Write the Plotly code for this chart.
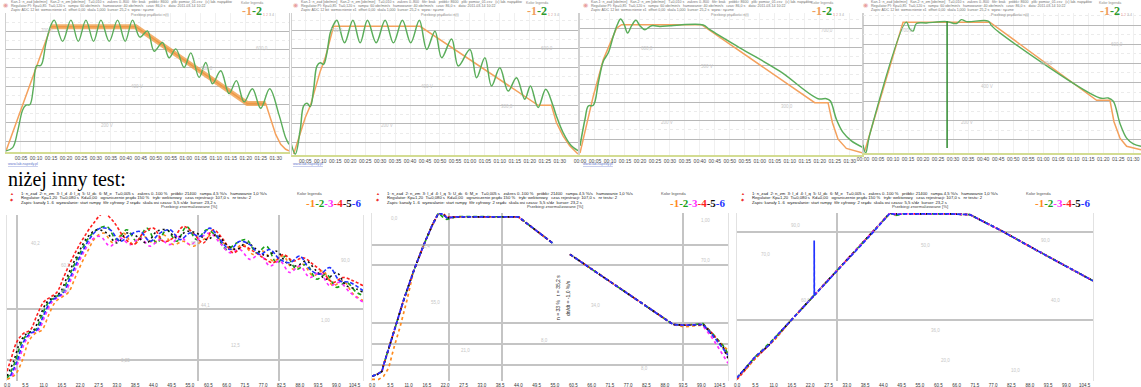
import plotly.graph_objects as go

W, H = 1141, 387

# ---------------- top row: set speed (1) and measured speed (2), four runs ----------------
# run A
a_set_t = [0, 13.5, 39, 72.5, 78, 79.5, 81, 82.5, 84, 85]
a_set = [46, 725, 725, 305, 305, 225, 136, 82, 55, 46]
a_band_t = [13.5, 39, 72.5, 78]
a_band = [725, 725, 305, 305]
a_meas_t = [0, 2, 3.5, 5, 6, 7.2, 8.2, 9.2, 10.5, 12, 13.5, 14.5, 17, 19.5, 21.7, 24, 26.3, 28.5, 31, 33.5,
            35.8, 38, 40.2, 42.5, 44.5, 47, 49, 51, 53.5, 55.5, 58, 60, 62, 64.5, 67, 69.2, 71.5, 74, 76.5, 79.2,
            82, 84, 85]
a_meas = [46, 64, 154, 270, 296, 300, 386, 511, 514, 636, 734, 761, 645, 761, 645, 761, 645, 761, 645, 761,
          645, 761, 668, 702, 591, 639, 555, 604, 502, 582, 448, 529, 413, 484, 359, 430, 314, 386, 279, 386,
          243, 118, 82]

# run B
b_set_t = [1, 2.5, 4.5, 6, 7.5, 9, 10.5, 13, 39, 74.5, 78.5, 80, 82, 84, 86.5]
b_set = [39, 119, 234, 296, 393, 481, 552, 720, 720, 299, 299, 207, 136, 83, 39]
b_meas_t = [0, 1.5, 3, 4, 5, 6, 7, 8, 9, 10, 11, 12, 13, 14, 16.3, 18.8, 21, 23.2, 25.8, 28.5,
            31, 33.7, 36.2, 38.8, 41, 43.5, 45.5, 48.5, 50.5, 54, 56, 58.5, 60.5, 63, 65.5, 68, 70.5, 72.2, 74.5, 76.8,
            79, 80, 82, 84.5, 86.5]
b_meas = [110, 39, 172, 296, 310, 292, 384, 508, 526, 517, 579, 685, 729, 752, 632, 752, 632, 752, 632, 752,
          632, 752, 632, 752, 596, 694, 552, 653, 508, 596, 446, 552, 402, 499, 375, 446, 331, 402, 287, 384,
          296, 242, 154, 83, 57]

# run C
c_set_t = [0, 4, 7, 11, 12.5, 36.5, 70.5, 74.5, 75.8, 77.5, 80, 85]
c_set = [24, 335, 533, 705, 723, 723, 298, 298, 190, 99, 49, 24]
c_meas_t = [0, 1.5, 2.5, 4, 5.5, 7, 8.5, 10, 11.2, 12.2, 13.3, 14.3, 15.5, 16.8, 18, 19.5, 21.5, 24, 27, 30,
            37, 39, 48, 60, 71.5, 74, 75.2, 77, 79, 81.5, 85]
c_meas = [63, 208, 280, 284, 407, 524, 570, 660, 723, 754, 723, 678, 718, 747, 718, 696, 718, 714, 718, 722,
          722, 696, 597, 470, 320, 320, 307, 208, 136, 90, 54]

# run D
d_set_t = [0.5, 12, 38, 70, 74, 75.2, 77, 79, 83.3]
d_set = [40, 716, 716, 307, 307, 195, 109, 66, 48]
d_meas_t = [0, 0.8, 2, 13, 14, 15, 16, 19, 25, 28, 29.5, 31, 37.5, 38.5, 41, 71, 73.5, 75, 77, 79, 81, 83.3]
d_meas = [74, 31, 126, 716, 681, 669, 709, 712, 719, 709, 729, 719, 722, 698, 660, 319, 319, 302, 186, 109, 79, 66]
d_cursor_t = [25.2, 25.2]
d_cursor = [57, 721]

top_tick_text = ["00:00", "00:05", "00:10", "00:15", "00:20", "00:25", "00:30", "00:35", "00:40", "00:45",
                 "00:50", "00:55", "01:00", "01:05", "01:10", "01:15", "01:20", "01:25", "01:30"]

# ---------------- bottom row: six channels, three tests ----------------
# test E
e1_t = [0, 2.5, 4.5, 6.5, 8.5, 10.5, 12.5, 14.5, 16.5, 18.5, 20.5, 22.5, 24.5, 26.5, 29, 32, 35, 38, 41, 44,
        47, 50, 53, 56, 59, 62, 65, 68, 71, 74, 77, 80, 83, 86, 89, 92, 95, 98, 101, 104, 107]
e1 = [1, 4, 12, 24, 29, 31, 40, 48, 51, 54, 63, 72, 80, 87, 90, 84, 90, 83, 88, 84,
      89, 83, 85, 82, 86, 89, 84, 80, 83, 77, 79, 73, 76, 68, 71, 64, 67, 58, 61, 53, 49]
e2_t = [0, 0.5, 2.5, 4.5, 6.5, 8.5, 10.5, 12.5, 14.5, 16.5, 18.5, 20.5, 22.5, 24.5, 27, 30, 33, 36, 39, 42,
        45, 48, 51, 54, 57, 60, 63, 66, 69, 72, 75, 78, 81, 84, 87, 90, 93, 96, 99, 102, 105, 107]
e2 = [2, 3, 12, 24, 29, 31, 40, 48, 51, 54, 63, 72, 80, 87, 92, 94, 86, 92, 85, 93,
      84, 92, 85, 94, 86, 92, 88, 80, 84, 86, 78, 82, 72, 76, 68, 71, 62, 65, 57, 60, 54, 52]
e3_t = [1.5, 3.5, 5.5, 7.5, 9.5, 11.5, 13.5, 15.5, 17.5, 19.5, 21.5, 23.5, 25.5, 28, 31, 34, 37, 40, 43, 46,
        49, 52, 55, 58, 61, 64, 67, 70, 73, 76, 79, 82, 85, 88, 91, 94, 97, 100, 103, 107]
e3 = [3, 12, 24, 29, 31, 40, 48, 51, 54, 63, 72, 80, 86, 88, 82, 87, 83, 87, 82, 86,
      83, 88, 83, 87, 90, 84, 78, 80, 74, 77, 70, 73, 66, 70, 63, 66, 58, 60, 54, 48]
e4_t = [0, 1, 3, 5, 7, 9, 11, 13, 15, 17, 19, 21, 23, 26, 29, 32, 35, 38, 41, 44,
        47, 50, 53, 56, 59, 62, 65, 68, 71, 74, 77, 80, 83, 86, 89, 92, 95, 98, 101, 104, 107]
e4 = [6, 12, 24, 29, 31, 40, 48, 51, 54, 63, 72, 80, 87, 96, 102, 97, 88, 83, 90, 93,
      85, 87, 94, 90, 84, 92, 86, 78, 82, 79, 75, 72, 77, 73, 75, 71, 66, 60, 63, 61, 58]
e5_t = [0, 2, 4, 6, 8, 10, 12, 14, 16, 18, 20, 22, 24, 27, 30, 33, 36, 39, 42, 45,
        48, 51, 54, 57, 60, 63, 66, 69, 72, 75, 78, 81, 84, 87, 90, 93, 96, 99, 102, 105, 107]
e5 = [3, 12, 24, 29, 31, 40, 48, 51, 54, 63, 72, 80, 87, 92, 90, 84, 90, 88, 84, 91,
      92, 87, 91, 90, 86, 89, 83, 80, 84, 80, 76, 79, 72, 70, 73, 67, 62, 66, 58, 56, 54]
e6_t = [1, 3, 5, 7, 9, 11, 13, 15, 17, 19, 21, 23, 25, 28, 31, 34, 37, 40, 43, 46,
        49, 52, 55, 58, 61, 64, 67, 70, 73, 76, 79, 82, 85, 88, 91, 94, 97, 100, 103, 107]
e6 = [3, 12, 24, 29, 31, 40, 48, 51, 54, 63, 72, 80, 87, 93, 92, 85, 89, 91, 85, 90,
      92, 86, 90, 88, 93, 86, 80, 85, 83, 77, 80, 74, 72, 76, 68, 65, 69, 61, 60, 55]

# test F (gap = recorder pause)
f_t = [0, 1.5, 3, 3.5, 5, 7, 9.5, 12.5, 15.5, 18, 20, 21.5, 22.5, 25.5, 44, 54.5, None, 59.5, 90.5, 94,
       98.5, 99.5, 102.5, 105.5, 107]
f1_t = [0, 2, 3.5, 5, 6.5, 8.5, 10.5, 12.5, 15.5, 18, 20, 21.5, 22.5, 25.5, 44, 54.5, None, 59.5, 90.5, 94,
        98.5, 100, 103, 105.5, 107]
f1 = [-1, -1, 1, 6, 18, 32, 48, 66, 82, 94, 102, 101, 99, 99.4, 99.4, 83, None, 76.4, 33, 31.5, 32.5, 32, 25, 20, 17]
f2 = [1, 2, 4, 8, 18, 32, 48, 66, 82, 94, 102, 99, 98, 99.8, 99.6, 83, None, 76.4, 33, 32.5, 33, 33.5, 27, 20, 15]
f3 = [1, 2, 4, 8, 18, 32, 48, 66, 82, 94, 102, 101, 99, 99.6, 99.6, 83, None, 76.4, 33, 32.5, 33, 32, 24, 14, 9]
f4 = [1, 2, 4, 8, 18, 32, 48, 66, 82, 94, 102, 101.5, 99.5, 99.6, 99.6, 83, None, 76.4, 33, 32.5, 33, 33, 27, 19, 13]
f5 = [1, 2, 4, 8, 18, 32, 48, 66, 82, 94, 102, 101, 99, 99.6, 99.6, 83, None, 76.4, 33, 32.5, 33, 33, 26, 19, 12]
f6 = [1, 2, 4, 8, 18, 32, 48, 66, 82, 94, 102, 101, 99, 99.6, 99.6, 83, None, 76.4, 33, 32.5, 33, 33, 26, 18, 14]

# test G
g_t = [0, 2.5, 5.5, 9.5, 11.5, 16, 23.2, 30, 40, 46, 47.5, 50, 55, 60, 63.5, 70, 79.5, 90, 100, 107]
g1 = [0, 5, 12, 20, 24, 35, 51, 66, 88, 102, 101, 102, 101.5, 101.5, 101.5, 101, 91, 79, 68, 60]
g2 = [0, 6, 13, 21, 25, 35, 51, 66, 88, 102, 100.5, 101.5, 101.5, 101.5, 101.5, 101, 91, 79, 68, 60]
g3 = [0, 6, 13, 20, 25, 35, 51, 66, 88, 102, 101.5, 101.5, 101.5, 101.5, 101.5, 101, 91, 79, 68, 60]
g4 = [-1, 5, 12, 20, 24, 35, 51, 66, 88, 102, 101, 101.5, 101.5, 101.5, 101.5, 101, 91, 79, 68, 60]
g5 = [0, 6, 13, 20, 25, 35, 51, 66, 88, 102, 101.5, 101.5, 101.5, 101.5, 101.5, 101, 91, 79, 68, 60]
g6_t = [0, 2.5, 5.5, 9.5, 11.5, 16, 23.2, 23.2, 23.25, 30, 40, 46, 47.5, 50, 55, 60, 63.5, 70, 79.5, 90, 100, 107]
g6 = [0, 6, 13, 20, 25, 35, 51, 85, 51, 66, 88, 102, 101, 101.5, 101.5, 101.5, 101.5, 101, 91, 79, 68, 60]

bottom_tick_text = ["0,0", "5,5", "11,0", "16,5", "22,0", "27,5", "33,0", "38,5", "44,0", "49,5",
                    "55,0", "60,5", "66,0", "71,5", "77,0", "82,5", "88,0", "93,5", "99,0", "104,5"]

# ---------------- styling ----------------
SET_C = "#f4a15d"
MEAS_C = "#5aad5a"
CH_C = ["#ff8a1c", "#18a018", "#ff2cff", "#ff1f1f", "#111111", "#2233ff"]
CH_DASH = ["3px,3px", "4px,3px", "3px,3px", "3px,2px", "2px,3px", "4px,2px"]

fig = go.Figure()


def ax(n):
    return ("x", "y") if n == 1 else (f"x{n}", f"y{n}")


def line(xs, ys, n, color, width=1.5, dash="solid", shape="linear", opacity=1.0):
    xa, ya = ax(n)
    fig.add_trace(go.Scatter(
        x=xs, y=ys, xaxis=xa, yaxis=ya, mode="lines", opacity=opacity,
        line=dict(color=color, width=width, dash=dash, shape=shape),
        hoverinfo="skip", showlegend=False, connectgaps=False))


# top row traces
line(a_set_t, a_set, 1, SET_C, 1.5)
line(a_band_t, a_band, 1, "rgba(238,150,60,0.75)", 5)
line(a_meas_t, a_meas, 1, MEAS_C, 1.4, shape="spline")
line(b_set_t, b_set, 2, SET_C, 1.5)
line(b_meas_t, b_meas, 2, MEAS_C, 1.5, shape="spline")
line(c_set_t, c_set, 3, SET_C, 1.5)
line(c_meas_t, c_meas, 3, MEAS_C, 1.5, shape="spline")
line(d_set_t, d_set, 4, SET_C, 1.5)
line(d_meas_t, d_meas, 4, MEAS_C, 1.4, shape="spline")
line(d_cursor_t, d_cursor, 4, "#2f8a2f", 1.5)

# bottom row traces
for t, ys, k in [(e1_t, e1, 0), (e2_t, e2, 1), (e3_t, e3, 2), (e4_t, e4, 3), (e5_t, e5, 4), (e6_t, e6, 5)]:
    line(t, ys, 5, CH_C[k], 1.6, dash=CH_DASH[k], shape="spline")
for t, ys, k in [(f1_t, f1, 0), (f_t, f2, 1), (f_t, f3, 2), (f_t, f4, 3), (f_t, f5, 4), (f_t, f6, 5)]:
    line(t, ys, 6, CH_C[k], 1.7, dash=CH_DASH[k])
for t, ys, k in [(g_t, g4, 3), (g_t, g1, 0), (g_t, g2, 1), (g_t, g5, 4), (g_t, g3, 2), (g6_t, g6, 5)]:
    line(t, ys, 7, CH_C[k], 1.7, dash=CH_DASH[k])


def dom(x0, x1, top, bottom):
    return [x0 / W, x1 / W], [1 - bottom / H, 1 - top / H]


layout = dict(width=W, height=H, margin=dict(l=0, r=0, t=0, b=0),
              paper_bgcolor="white", plot_bgcolor="white", showlegend=False)

top_panels = [
    (1, dom(6, 289, 13, 152), [0, 85], [40, 800]),
    (2, dom(292, 578, 13, 155), [0.5, 86.5], [34, 791]),
    (3, dom(580, 863, 13, 155), [0, 85], [13, 787]),
    (4, dom(863, 1141, 13, 153), [0, 83.3], [31, 764]),
]
for n, (xd, yd), xr, yr in top_panels:
    xa, ya = ax(n)
    xk = "xaxis" if n == 1 else f"xaxis{n}"
    yk = "yaxis" if n == 1 else f"yaxis{n}"
    layout[xk] = dict(domain=xd, range=xr, anchor=ya, showgrid=True, gridcolor="#f0f0f0", automargin=False,
                      tickvals=[i * 4.5 for i in range(len(top_tick_text))], ticktext=top_tick_text,
                      tickfont=dict(size=5, color="#4a4a4a", family="Liberation Sans"),
                      showline=True, linecolor="#d3dc92", linewidth=2, ticks="", zeroline=False)
    layout[yk] = dict(domain=yd, range=yr, anchor=xa, tickvals=[100, 200, 300, 400, 500, 600, 700],
                      showticklabels=False, showgrid=True, gridcolor="#b8b8b8", gridwidth=1,
                      zeroline=False, showline=True, linecolor="#d0d0d0", mirror=True, automargin=False,
                      minor=dict(tickvals=[150, 250, 350, 450, 550, 650, 750], showgrid=True,
                                 gridcolor="#ebebeb", griddash="dot"))

bottom_panels = [
    (5, dom(7, 363, 215, 381), [0, 107], [0, 101], [101, 44, 13], [3, 57.5, 81.8]),
    (6, dom(372, 728, 213, 381), [0, 107], [-2, 102], [82.4, 69.6, 34, 21, 8], [23, 39, 93.5]),
    (7, dom(737, 1093, 213, 381), [0, 107], [-2, 102], [90, 36], [30]),
]
for n, (xd, yd), xr, yr, ygrid, xgrid in bottom_panels:
    xa, ya = ax(n)
    layout[f"xaxis{n}"] = dict(domain=xd, range=xr, anchor=ya, showgrid=False, zeroline=False, automargin=False,
                               tickvals=[i * 5.5 for i in range(len(bottom_tick_text))],
                               ticktext=bottom_tick_text, ticks="", ticklabelstandoff=0,
                               tickfont=dict(size=4.5, color="#333333", family="Liberation Sans"),
                               minor=dict(tickvals=xgrid, showgrid=True, gridcolor="#c4c4c4", gridwidth=1.5))
    layout[f"yaxis{n}"] = dict(domain=yd, range=yr, anchor=xa, tickvals=ygrid, showticklabels=False,
                               showgrid=True, gridcolor="#c4c4c4", gridwidth=1.5, zeroline=False,
                               automargin=False, showline=True, linecolor="#e2e2e2", mirror=True)

fig.update_layout(**layout)

# ---------------- text ----------------
anns = []


def ann(x, y, text, size=4, color="#777777", xanchor="left", yanchor="middle",
        family="Liberation Sans", angle=0):
    anns.append(dict(x=x / W, y=1 - y / H, xref="paper", yref="paper", text=text, showarrow=False,
                     font=dict(size=size, color=color, family=family), xanchor=xanchor,
                     yanchor=yanchor, textangle=angle, borderpad=0))


top_head = [
    "Kan.1: n_zad [obr/min]   Kan.2: n_zm [obr/min]   T=0,010 s   zakres 0..800   filtr: brak   próbki: 8600   plik: pomiar_01.csv   (c) lab. napędów",
    "Regulator PI: Kp=0,85  Ti=0,120 s   rampa: 60 obr/min/s   hamowanie: 40 obr/min/s   czas: 86,0 s   data: 2011-03-14 10:22",
    "Zapis: ADC 12 bit  wzmocnienie x1  offset 0,00  skala 1,000  kursor: 25,2 s  wyzw.: ręczne",
]
top_title = "Przebiegi prędkości n(t)"
for x0, lx in [(10, 252), (300, 537), (590, 822), (870, 1110)]:
    ann(x0 - 8, 5, "◉", 6, "#e8a0a0")
    for i, s in enumerate(top_head):
        ann(x0, 2.5 + 3.6 * i, s, 3.6, "#707070")
    ann(x0 + 120, 14.5, top_title, 3.6, "#8a8a8a")
    ann(lx, 3, "Kolor legenda", 3.6, "#888888", xanchor="center")
    ann(lx, 10.5, "<b><span style='color:#f0a060'>-1</span><span style='color:#2e9a2e'>-2</span></b>",
        12, "#2e9a2e", xanchor="center", family="Liberation Sans Narrow")
    ann(lx + 10, 14.5, "<span style='color:#f08080'>1</span> <span style='color:#e0a0a0'>2</span> 3 4",
        3.6, "#aaaaaa")

for x0 in [7, 292, 582]:
    ann(x0, 164.5, "<u>www.lab-napedy.pl</u>", 3.6, "#6677cc")

# faint in-plot value tags
faint = [(40, 30, "700,0"), (130, 87, "400 V"), (200, 68, "500,0"), (100, 125, "200 V"), (255, 48, "600,0"),
         (330, 30, "700,0"), (420, 87, "400 V"), (500, 106, "300,0"), (380, 125, "200 V"), (540, 48, "600,0"),
         (640, 48, "600,0"), (700, 67, "500 V"), (780, 106, "300,0"), (660, 122, "200 V"), (820, 30, "700,0"),
         (900, 30, "700,0"), (980, 87, "400 V"), (1040, 63, "500,0"), (960, 122, "200 V"), (1110, 44, "600,0"),
         (30, 243, "40,2"), (60, 265, "60,3"), (190, 243, "85,0"), (200, 305, "44,1"), (60, 290, "30,0"),
         (230, 345, "12,5"), (120, 360, "0,25"), (320, 320, "1,00"), (340, 260, "90,0"),
         (390, 218, "0,0"), (420, 246, "82,4"), (430, 302, "55,0"), (460, 350, "21,0"), (540, 340, "8,0"),
         (590, 305, "34,0"), (700, 220, "1,00"), (700, 260, "70,0"), (640, 368, "8,0"),
         (790, 225, "90,0"), (760, 255, "70,0"), (800, 300, "60,0"), (920, 245, "50,0"), (930, 330, "36,0"),
         (1040, 240, "90,0"), (1050, 300, "40,0"), (940, 360, "20,0"), (1010, 370, "10,0")]
for x, y, s in faint:
    ann(x, y, s, 4.5, "#c6c6c6")

ann(7, 180, "niżej inny test:", 20, "#000000", family="Liberation Serif")

bottom_head = [
    "1: n_zad  2: n_zm  3: I_d  4: I_q  5: U_dc  6: M_e   T=0,005 s   zakres 0..100 %   próbki: 21400   rampa 4,5 %/s   hamowanie 1,0 %/s",
    "Regulator: Kp=1,20  Ti=0,080 s  Kd=0,00   ograniczenie prądu 150 %   tryb: wektorowy   czas rejestracji: 107,0 s   nr testu: 2",
    "Zapis: kanały 1..6  wyzwalanie: start rampy  filtr cyfrowy: 2 rzędu  skala osi czasu: 5,5 s/dz  kursor: 23,2 s",
    "Przebiegi znormalizowane [%]",
]
legend6 = ("<b><span style='color:#ff8a1c'>-1</span><span style='color:#18a018'>-2</span>"
           "<span style='color:#ff2cff'>-3</span><span style='color:#ff1f1f'>-4</span>"
           "<span style='color:#111111'>-5</span><span style='color:#2233ff'>-6</span></b>")
for x0, lx in [(20, 334), (386, 698), (751, 1063)]:
    ann(x0 - 11, 193, "▲", 4, "#ee3333")
    ann(x0 - 11, 199, "◆", 4, "#ee3333")
    for i, s in enumerate(bottom_head[:3]):
        ann(x0, 193 + 4.8 * i, s, 4.2, "#222222")
    ann(x0 + 140, 207, bottom_head[3], 4.2, "#444444")
    ann(lx - 25, 193, "Kolor legenda", 4, "#555555", xanchor="center")
    ann(lx, 203, legend6, 11, "#111111", xanchor="center", family="Liberation Sans Narrow")

ann(558, 298, "n = 33 %   t = 35,2 s", 5, "#222222", xanchor="center", angle=-90)
ann(568, 298, "dn/dt = -1,0 %/s", 5, "#222222", xanchor="center", angle=-90)

fig.update_layout(annotations=anns)
fig.write_html("out.html")
